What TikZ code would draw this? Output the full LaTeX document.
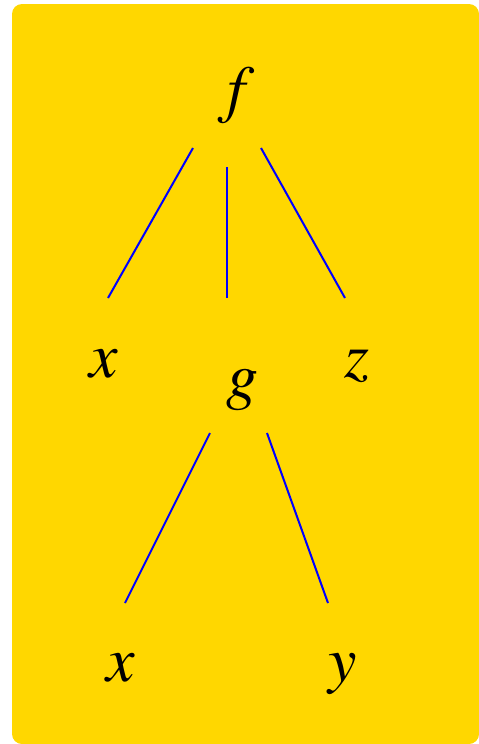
\documentclass[tikz,border=0pt]{standalone}
\usepackage{mathptmx}
\definecolor{bggold}{RGB}{255,215,0}
\tikzset{
  lbl/.style={anchor=base, inner sep=0pt, font=\fontsize{64}{70}\selectfont},
  edge/.style={draw=blue, line width=2pt}
}
\begin{document}
\begin{tikzpicture}[x=1pt,y=-1pt]
\useasboundingbox (0,0) rectangle (479,744);
\fill[bggold, rounded corners=10pt] (12,4) rectangle (479,744);
\node[lbl] (f) at (236,110) {$f$};
\node[lbl] (x1) at (104,377) {$x$};
\node[lbl] (g) at (242,397) {$g$};
\node[lbl] (z) at (357,377) {$z$};
\node[lbl] (x2) at (121,681) {$x$};
\node[lbl] (y) at (343,681) {$y$};
\coordinate (fa) at (193,148);
\coordinate (fb) at (227,167);
\coordinate (fc) at (261,148);
\coordinate (x1t) at (108,298);
\coordinate (gt) at (227,298);
\coordinate (zt) at (345,298);
\coordinate (ga) at (210,433);
\coordinate (gb) at (267,433);
\coordinate (x2t) at (125,603);
\coordinate (yt) at (328,603);
\draw[edge] (fa) -- (x1t);
\draw[edge] (fb) -- (gt);
\draw[edge] (fc) -- (zt);
\draw[edge] (ga) -- (x2t);
\draw[edge] (gb) -- (yt);
\end{tikzpicture}
\end{document}
